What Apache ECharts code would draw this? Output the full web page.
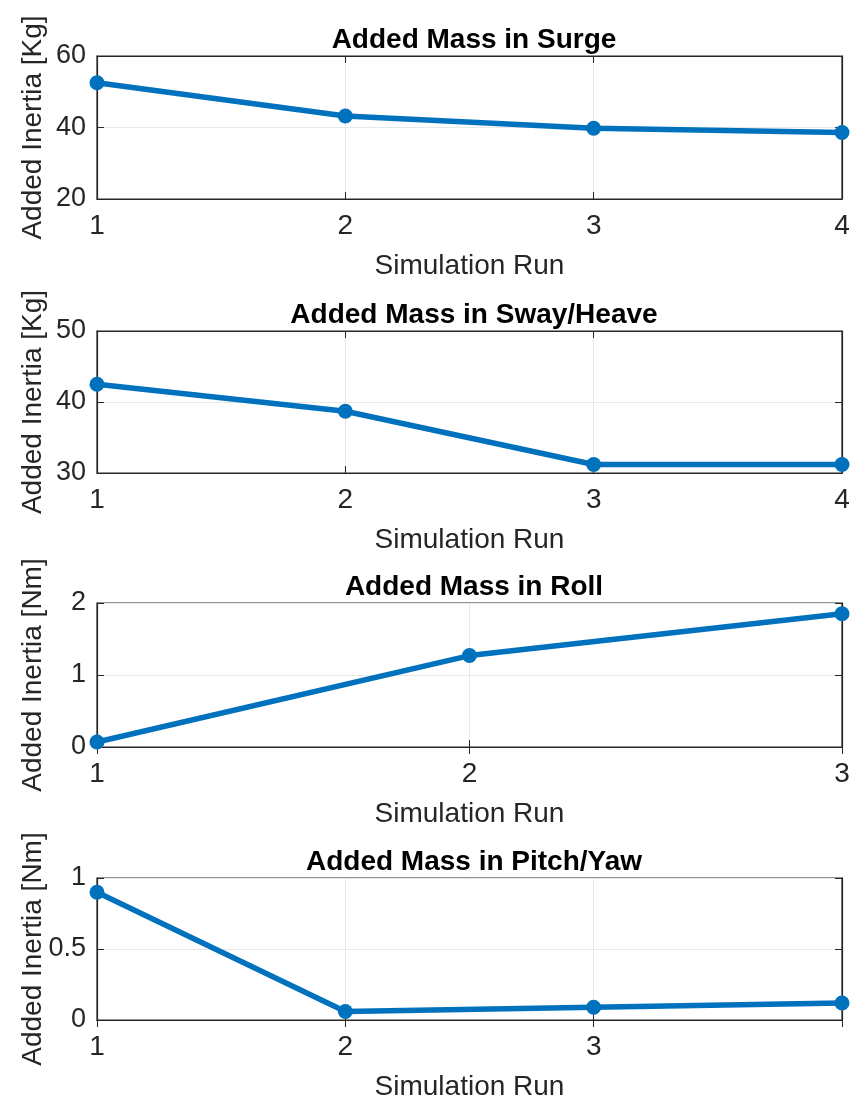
<!DOCTYPE html>
<html>
<head>
<meta charset="utf-8">
<script src="https://cdn.jsdelivr.net/npm/echarts@6/dist/echarts.min.js"></script>
<style>
html,body{margin:0;padding:0;background:#fff;}
#c{width:853px;height:1102px;}
</style>
</head>
<body>
<div id="c"></div>
<script>
// ---- data ----
var titles = ['Added Mass in Surge', 'Added Mass in Sway/Heave', 'Added Mass in Roll', 'Added Mass in Pitch/Yaw'];
var yNames = ['Added Inertia [Kg]', 'Added Inertia [Kg]', 'Added Inertia [Nm]', 'Added Inertia [Nm]'];
var xName = 'Simulation Run';
var runsSurge = [1, 2, 3, 4];
var surge = [52.5, 43.2, 39.8, 38.6];
var runsSway = [1, 2, 3, 4];
var sway = [42.5, 38.7, 31.2, 31.2];
var runsRoll = [1, 2, 3];
var roll = [0.07, 1.27, 1.85];
var runsPitch = [1, 2, 3, 4];
var pitch = [0.90, 0.06, 0.09, 0.12];
var yMin = [20, 30, 0, 0];
var yMax = [60, 50, 2, 1];
var yStep = [20, 10, 1, 0.5];
var xMax = [4, 4, 3, 4];
var xLabelHide = [[], [], [], [4]];

// ---- layout ----
var gridTops = [56, 331, 603, 878];
var gridHeights = [143, 142, 144, 143];
var font = 'Liberation Sans, Arial, Helvetica, sans-serif';
var blue = '#0072BD';

var xs = [runsSurge, runsSway, runsRoll, runsPitch];
var ys = [surge, sway, roll, pitch];

var option = {
  animation: false,
  backgroundColor: '#fff',
  title: [], grid: [], xAxis: [], yAxis: [], series: []
};

for (var i = 0; i < 4; i++) {
  option.title.push({
    text: titles[i], left: 469, top: gridTops[i] - 35, textAlign: 'center',
    textStyle: { fontFamily: font, fontSize: 28, fontWeight: 'bold', color: '#000' }
  });
  option.grid.push({
    left: 97, right: 11, top: gridTops[i], height: gridHeights[i],
    show: true, borderColor: '#262626', borderWidth: 1.2, backgroundColor: '#fff'
  });
  (function (idx) {
    option.xAxis.push({
      type: 'value', gridIndex: idx, min: 1, max: xMax[idx], interval: 1,
      name: xName, nameLocation: 'middle', nameGap: 53, nameMoveOverlap: false,
      nameTextStyle: { fontFamily: font, fontSize: 28, color: '#262626' },
      axisLine: { show: true, lineStyle: { color: '#262626', width: 1.2 } },
      axisTick: { show: true, inside: true, length: 7, lineStyle: { color: '#262626' } },
      axisLabel: {
        fontFamily: font, fontSize: 28, color: '#262626', margin: 13,
        formatter: function (v) { return xLabelHide[idx].indexOf(v) >= 0 ? '' : String(v); }
      },
      splitLine: { show: true, lineStyle: { color: '#e8e8e8', width: 1 } }
    });
    option.xAxis.push({
      type: 'value', gridIndex: idx, position: 'top', min: 1, max: xMax[idx], interval: 1,
      axisLine: { show: true, lineStyle: { color: '#262626', width: 1.2 } },
      axisTick: { show: true, inside: true, length: 7, lineStyle: { color: '#262626' } },
      axisLabel: { show: false }, splitLine: { show: false }
    });
    option.yAxis.push({
      type: 'value', gridIndex: idx, min: yMin[idx], max: yMax[idx], interval: yStep[idx],
      name: yNames[idx], nameLocation: 'middle', nameGap: 50, nameRotate: 90, nameMoveOverlap: false,
      nameTextStyle: { fontFamily: font, fontSize: 28, color: '#262626' },
      axisLine: { show: true, lineStyle: { color: '#262626', width: 1.2 } },
      axisTick: { show: true, inside: true, length: 7, lineStyle: { color: '#262626' } },
      axisLabel: { fontFamily: font, fontSize: 27, color: '#262626', margin: 11 },
      splitLine: { show: true, lineStyle: { color: '#e8e8e8', width: 1 } }
    });
    option.yAxis.push({
      type: 'value', gridIndex: idx, position: 'right', min: yMin[idx], max: yMax[idx], interval: yStep[idx],
      axisLine: { show: true, lineStyle: { color: '#262626', width: 1.2 } },
      axisTick: { show: true, inside: true, length: 7, lineStyle: { color: '#262626' } },
      axisLabel: { show: false }, splitLine: { show: false }
    });
    var d = xs[idx].map(function (x, k) { return [x, ys[idx][k]]; });
    option.series.push({
      type: 'line', xAxisIndex: idx * 2, yAxisIndex: idx * 2, data: d,
      symbol: 'circle', symbolSize: 15, clip: false,
      lineStyle: { color: blue, width: 5.5 },
      itemStyle: { color: blue },
      z: 5
    });
  })(i);
}

var chart = echarts.init(document.getElementById('c'), null, { renderer: 'canvas' });
chart.setOption(option);
</script>
</body>
</html>
